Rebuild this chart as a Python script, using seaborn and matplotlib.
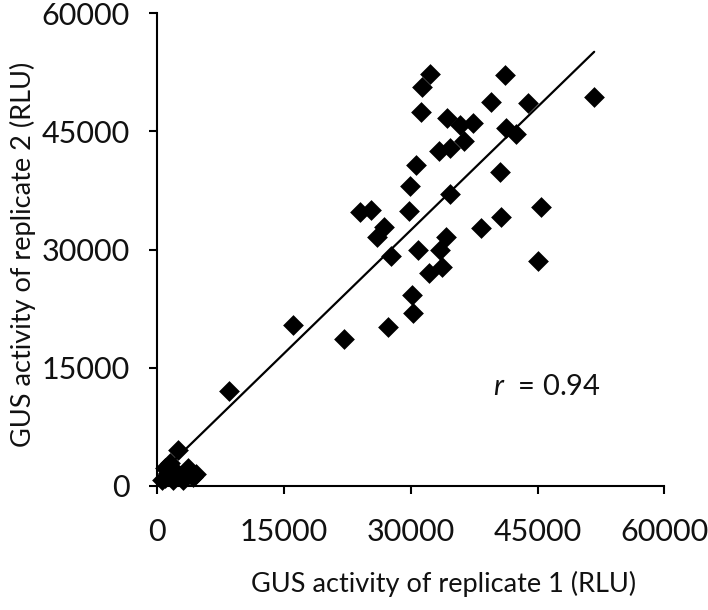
import matplotlib
matplotlib.use("Agg")
import matplotlib.pyplot as plt
import seaborn as sns

# GUS activity (RLU)
replicate1 = [520, 910, 910, 1300, 1500, 1890, 2290, 2500, 3080, 3670, 4260, 4580,
              8500, 16100, 22100, 27300, 30200, 30100, 32200, 33700, 45000, 27600,
              33500, 30900, 34200, 38300, 40700, 26000, 26800, 45400, 29800, 25300,
              24000, 34600, 29900, 40600, 30600, 42500, 41300, 34600, 33300, 36300,
              37300, 35800, 34300, 31200, 43900, 39500, 51700, 41100, 31300, 32300]
replicate2 = [760, 1015, 2250, 1610, 2880, 760, 1610, 4570, 760, 2250, 1180, 1500,
              12000, 20400, 18600, 20200, 21900, 24200, 27000, 27800, 28600, 29200,
              30000, 29900, 31600, 32700, 34200, 31600, 32900, 35400, 34900, 35000,
              34800, 37100, 38100, 39900, 40700, 44700, 45400, 42900, 42500, 43800,
              46100, 45800, 46700, 47500, 48600, 48800, 49400, 52200, 50700, 52300]
ticks = [0, 15000, 30000, 45000, 60000]
r_label = "$r$  = 0.94"

sns.set_theme(style="white")
plt.rcParams["font.family"] = ["Lato", "DejaVu Sans"]
plt.rcParams["mathtext.fontset"] = "custom"
plt.rcParams["mathtext.it"] = "Lato:italic"
plt.rcParams["mathtext.rm"] = "Lato"

fig = plt.figure(figsize=(7.08, 6.10), dpi=100)
ax = fig.add_axes([0.2222, 0.2033, 0.7161, 0.7749])

sns.regplot(x=replicate1, y=replicate2, scatter=False, ci=None, ax=ax,
            line_kws=dict(color="black", lw=1.6))
sns.scatterplot(x=replicate1, y=replicate2, marker="D", s=112, color="black",
                edgecolor="black", linewidth=0, ax=ax, clip_on=False, zorder=3)

ax.set_xlim(0, 60000)
ax.set_ylim(0, 60000)
ax.set_xticks(ticks)
ax.set_yticks(ticks)
ax.set_xticklabels([str(t) for t in ticks])
ax.set_yticklabels([str(t) for t in ticks])

for side in ["top", "right"]:
    ax.spines[side].set_visible(False)
for side in ["left", "bottom"]:
    ax.spines[side].set_color("black")
    ax.spines[side].set_linewidth(1.5)

ax.tick_params(axis="both", which="both", direction="out", length=6, width=1.5,
               color="black", labelsize=22, labelcolor="#111111")
ax.tick_params(axis="x", pad=17, bottom=True)
ax.tick_params(axis="y", pad=14, left=True)

ax.set_xlabel("GUS activity of replicate 1 (RLU)", fontsize=19.5, color="#111111")
ax.set_ylabel("GUS activity of replicate 2 (RLU)", fontsize=19.5, color="#111111")
ax.xaxis.set_label_coords((443.6 - 157.3) / 507.0, -(584 - 486) / 472.7)
ax.yaxis.set_label_coords(-(157.3 - 23.3) / 507.0, (486 - 254.5) / 472.7)
ax.xaxis.label.set_va("center")
ax.yaxis.label.set_va("center")

ax.text(39760, 12600, r_label, fontsize=21, color="#111111", va="center", ha="left")

fig.savefig("out.png", dpi=100)
